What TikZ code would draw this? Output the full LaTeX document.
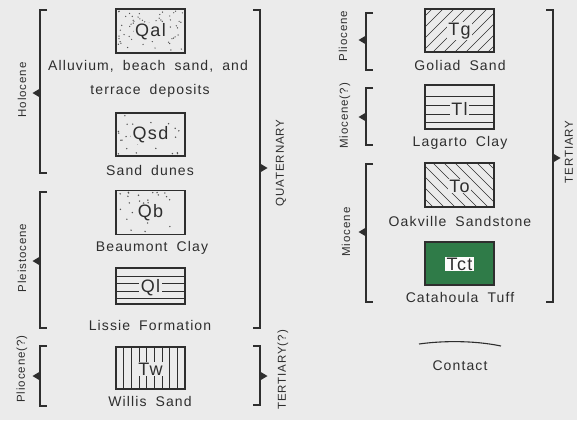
\documentclass[tikz,border=0pt]{standalone}
\usepackage{fontspec}
\setmainfont{Liberation Sans}[LetterSpace=8,WordSpace=1.8]
\definecolor{bg}{HTML}{EBEBEB}
\definecolor{ink}{HTML}{2E2E2E}
\definecolor{tuff}{HTML}{2F7B48}
\begin{document}
\begin{tikzpicture}[x=1pt,y=-1pt,
  unitbox/.style={draw=ink, line width=1.3pt, minimum width=69pt, minimum height=44pt, inner sep=0pt},
  sym/.style={fill=bg, text=ink, inner xsep=1.5pt, inner ysep=0.5pt, font=\fontsize{18}{20}\selectfont},
  desc/.style={text=ink, inner sep=0pt, font=\fontsize{14}{16}\selectfont},
  rot/.style={rotate=90, text=ink, inner sep=0pt, font=\fontsize{11.5}{13}\selectfont},
  brk/.style={draw=ink, line width=1.1pt},
  hatch/.style={draw=ink, line width=0.6pt},
  dot/.style={fill=ink!80!bg}]
\fill[bg] (0,0) rectangle (577,420);
\useasboundingbox (0,0) rectangle (577,420);
\pgfmathsetseed{11}

% ---------- left column ----------
% Qal
\node[unitbox, minimum height=44pt] (qal) at (150.5,31) {};
\foreach \i in {1,...,75} \fill[dot] ({118+65*rnd},{11+40*rnd}) circle (0.7);
\node[sym] (qallab) at (150.5,32) {Qal};
\node[desc] (qaltxt1) at (148,66) {Alluvium, beach sand, and};
\node[desc] (qaltxt2) at (150,91) {terrace deposits};
% Qsd
\node[unitbox, minimum height=43pt] (qsd) at (150.5,134.5) {};
\foreach \i in {1,...,28} \fill[dot] ({118+65*rnd},{115+39*rnd}) circle (0.8);
\node[sym] (qsdlab) at (150.5,135) {Qsd};
\node[desc] (qsdtxt) at (150,170) {Sand dunes};
% Qb
\node[unitbox, minimum height=44pt] (qb) at (150.5,212.5) {};
\foreach \i in {1,...,28} \fill[dot] ({118+65*rnd},{192+40*rnd}) circle (0.8);
\node[sym] (qblab) at (150.5,213) {Qb};
\node[desc] (qbtxt) at (152,248) {Beaumont Clay};
% Ql
\node[unitbox, minimum height=36pt] (ql) at (150.5,286) {};
\foreach \yy in {276,283.5,291,298} \draw[hatch, line width=0.9pt] (ql.west |- 0,\yy) -- (ql.east |- 0,\yy);
\node[sym, inner ysep=0pt] (qllab) at (150.5,287.5) {Ql};
\node[desc] (qltxt) at (150,325) {Lissie Formation};
% Tw
\node[unitbox, minimum height=42pt] (tw) at (150.5,368) {};
\foreach \k in {1,...,8} \draw[hatch, line width=0.8pt] ({116+\k*69/9},347) -- ({116+\k*69/9},389);
\node[sym] (twlab) at (150.5,369) {Tw};
\node[desc] (twtxt) at (150,401) {Willis Sand};

% left brackets
\draw[brk] (47,10) -| (40,173) -- (47,173);
\fill[ink] (40,88.5) -- (40,97.5) -- (32.5,93) -- cycle;
\node[rot] (holo) at (22,90) {Holocene};
\draw[brk] (47,192) -| (40,328) -- (47,328);
\fill[ink] (40,256.5) -- (40,265.5) -- (32.5,261) -- cycle;
\node[rot] (pleis) at (22,258) {Pleistocene};
\draw[brk] (47,346) -| (40,406) -- (47,406);
\fill[ink] (40,371.5) -- (40,380.5) -- (32.5,376) -- cycle;
\node[rot] (plioq) at (22,369) {Pliocene(?)};
% right brackets of left column
\draw[brk] (253,10) -| (260,328) -- (253,328);
\fill[ink] (260,163.5) -- (260,172.5) -- (267.5,168) -- cycle;
\node[rot] (quat) at (281,163) {QUATERNARY};
\draw[brk] (253,346) -| (260,405) -- (253,405);
\fill[ink] (260,371.5) -- (260,380.5) -- (267.5,376) -- cycle;
\node[rot] (tertq) at (283,370) {TERTIARY(?)};

% ---------- right column ----------
% Tg
\node[unitbox, minimum height=43pt] (tg) at (459.5,30.5) {};
\begin{scope}
\clip (tg.south west) rectangle (tg.north east);
\foreach \k in {378,389,...,500} \draw[hatch] (\k,52) -- ({\k+43},9);
\end{scope}
\node[sym, inner xsep=1pt] (tglab) at (459.5,31) {Tg};
\node[desc] (tgtxt) at (460,65) {Goliad Sand};
% Tl
\node[unitbox, minimum height=44pt] (tl) at (459.5,107) {};
\foreach \yy in {96,105,114,122} \draw[hatch, line width=0.9pt] (tl.west |- 0,\yy) -- (tl.east |- 0,\yy);
\node[sym, inner ysep=0pt] (tllab) at (459.5,109) {Tl};
\node[desc] (tltxt) at (460,143) {Lagarto Clay};
% To
\node[unitbox, minimum height=44pt] (to) at (459.5,185) {};
\begin{scope}
\clip (to.south west) rectangle (to.north east);
\foreach \k in {378,389,...,500} \draw[hatch] (\k,163) -- ({\k+44},207);
\end{scope}
\node[sym, inner xsep=1pt] (tolab) at (459.5,186) {To};
\node[desc] (totxt) at (460,221) {Oakville Sandstone};
% Tct
\node[unitbox, fill=tuff, minimum height=43pt] (tct) at (459.5,263.5) {};
\node[sym, fill=white!90!bg, inner xsep=1.5pt, inner ysep=1pt] (tctlab) at (459.5,264) {Tct};
\node[desc] (tcttxt) at (460,297) {Catahoula Tuff};

% right-column brackets
\draw[brk] (373,13) -| (366,70) -- (373,70);
\fill[ink] (366,35.5) -- (366,44.5) -- (358.5,40) -- cycle;
\node[rot] (plio) at (343,36) {Pliocene};
\draw[brk] (373,88) -| (366,145) -- (373,145);
\fill[ink] (366,112.5) -- (366,121.5) -- (358.5,117) -- cycle;
\node[rot] (mioq) at (345,116) {Miocene(?)};
\draw[brk] (373,164) -| (366,302) -- (373,302);
\fill[ink] (366,227.5) -- (366,236.5) -- (358.5,232) -- cycle;
\node[rot] (mio) at (346,232) {Miocene};
\draw[brk] (546,10) -| (553,302) -- (546,302);
\fill[ink] (553,153.5) -- (553,162.5) -- (560.5,158) -- cycle;
\node[rot] (tert) at (569,152) {TERTIARY};

% contact
\coordinate (ca) at (419,344);
\coordinate (cb) at (501,346);
\draw[draw=ink, line width=1.1pt] (ca) .. controls (440,341) and (472,340) .. (cb);
\node[desc] (contact) at (460,366) {Contact};
\end{tikzpicture}
\end{document}
